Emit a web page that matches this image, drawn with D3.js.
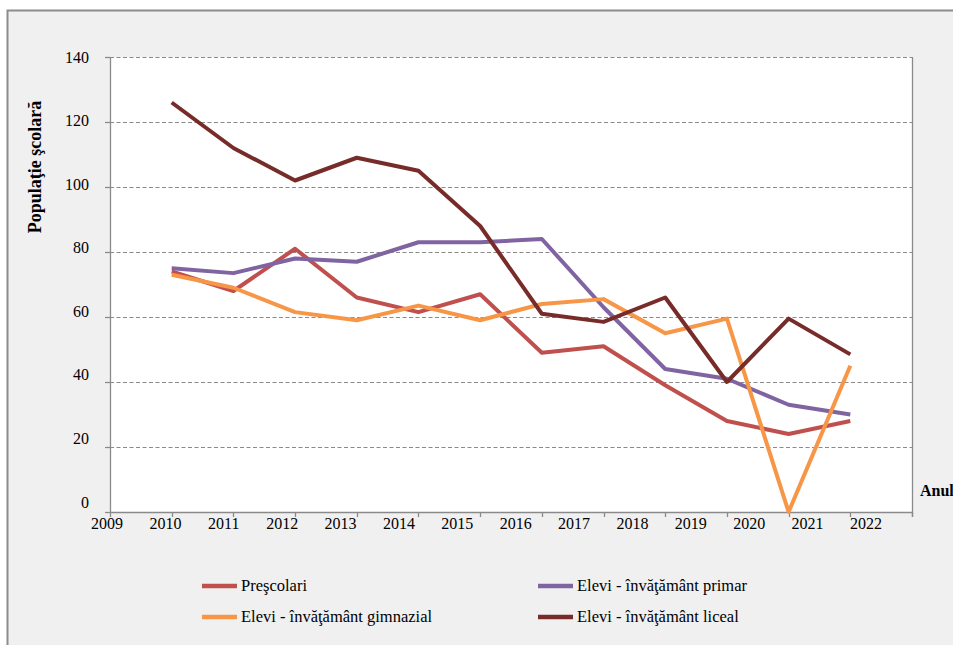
<!DOCTYPE html>
<html>
<head>
<meta charset="utf-8">
<script src="https://cdn.jsdelivr.net/npm/d3@7"></script>
<style>
  html, body { margin: 0; padding: 0; background: #ffffff; }
  svg { display: block; font-family: 'Liberation Serif', 'Times New Roman', Times, serif; }
</style>
</head>
<body>
<svg id="chart" width="953" height="645"></svg>
<script>
// ---- data ----
const years = [2010, 2011, 2012, 2013, 2014, 2015, 2016, 2017, 2018, 2019, 2020, 2021];
const tickYears = [2009, 2010, 2011, 2012, 2013, 2014, 2015, 2016, 2017, 2018, 2019, 2020, 2021, 2022];
const yTicks = [0, 20, 40, 60, 80, 100, 120, 140];
const prescolari = [74, 68, 81, 66, 61.5, 67, 49, 51, 39, 28, 24, 28];
const primar     = [75, 73.5, 78, 77, 83, 83, 84, 63, 44, 41, 33, 30];
const gimnazial  = [73, 69, 61.5, 59, 63.5, 59, 64, 65.5, 55, 59.5, 0, 45];
const liceal     = [126, 112, 102, 109, 105, 88, 61, 58.5, 66, 40, 59.5, 48.5];
const seriesNames = ["Preşcolari", "Elevi - învăţământ primar", "Elevi - învăţământ gimnazial", "Elevi - învăţământ liceal"];
const seriesColors = ["#C0504D", "#8064A2", "#F79646", "#772C2A"];
const seriesValues = [prescolari, primar, gimnazial, liceal];
const yTitle = "Populaţie şcolară";
const xTitle = "Anul";

// ---- layout ----
const FONT = "'Liberation Serif', 'Times New Roman', Times, serif";
const svg = d3.select("#chart").attr("font-family", FONT);
const W = 953, H = 645;
const plot = { left: 110, right: 912, top: 57, bottom: 512 };

// outer panel
svg.append("rect").attr("x", 7.5).attr("y", 10.5).attr("width", W).attr("height", H)
  .attr("fill", "#f0f0f0").attr("stroke", "#8c8c8c").attr("stroke-width", 2);

// plot area
svg.append("rect").attr("x", plot.left).attr("y", plot.top)
  .attr("width", plot.right - plot.left).attr("height", plot.bottom - plot.top)
  .attr("fill", "#ffffff");

const x = d3.scaleLinear().domain([2009, 2022]).range([plot.left, plot.right]);
const y = d3.scaleLinear().domain([0, 140]).range([plot.bottom, plot.top]);
// label positions (offset as in the original rendering)
const xLab = d3.scaleLinear().domain([2009, 2022]).range([plot.left - 3, plot.left + 756]);
const yLab = d3.scaleLinear().domain([0, 140]).range([plot.bottom - 10, plot.top]);

// gridlines
svg.append("g").selectAll("line").data(yTicks.filter(d => d > 0)).join("line")
  .attr("x1", plot.left).attr("x2", plot.right)
  .attr("y1", d => Math.round(y(d)) + 0.5).attr("y2", d => Math.round(y(d)) + 0.5)
  .attr("stroke", "#8a8a8a").attr("stroke-width", 1.2).attr("stroke-dasharray", "4,2.5");

// right border
svg.append("line").attr("x1", plot.right + 0.5).attr("x2", plot.right + 0.5)
  .attr("y1", plot.top).attr("y2", plot.bottom + 5).attr("stroke", "#8a8a8a").attr("stroke-width", 1.3);

// y axis
svg.append("line").attr("x1", plot.left + 0.5).attr("x2", plot.left + 0.5)
  .attr("y1", plot.top).attr("y2", plot.bottom).attr("stroke", "#8a8a8a").attr("stroke-width", 1.3);
svg.append("g").selectAll("line").data(yTicks).join("line")
  .attr("x1", plot.left - 5).attr("x2", plot.left)
  .attr("y1", d => Math.round(y(d)) + 0.5).attr("y2", d => Math.round(y(d)) + 0.5)
  .attr("stroke", "#8a8a8a").attr("stroke-width", 1.3);
svg.append("g").selectAll("text").data(yTicks).join("text")
  .attr("font-family", FONT)
  .attr("x", plot.left - 21).attr("y", d => yLab(d)).attr("dy", "0.35em")
  .attr("text-anchor", "end").attr("font-size", 16).text(d => d);

// x axis
svg.append("line").attr("x1", plot.left).attr("x2", plot.right)
  .attr("y1", plot.bottom + 0.5).attr("y2", plot.bottom + 0.5)
  .attr("stroke", "#8a8a8a").attr("stroke-width", 1.3);
svg.append("g").selectAll("line").data(tickYears).join("line")
  .attr("x1", d => Math.round(x(d)) + 0.5).attr("x2", d => Math.round(x(d)) + 0.5)
  .attr("y1", plot.bottom).attr("y2", plot.bottom + 5)
  .attr("stroke", "#8a8a8a").attr("stroke-width", 1.3);
svg.append("g").selectAll("text").data(tickYears).join("text")
  .attr("font-family", FONT)
  .attr("x", d => xLab(d)).attr("y", plot.bottom + 17)
  .attr("text-anchor", "middle").attr("font-size", 16).text(d => d);

// lines
const line = d3.line().x((d, i) => x(years[i])).y(d => y(d));
svg.append("g").selectAll("path").data(seriesValues).join("path")
  .attr("d", d => line(d))
  .attr("fill", "none")
  .attr("stroke", (d, i) => seriesColors[i])
  .attr("stroke-width", 4)
  .attr("stroke-linejoin", "round");

// axis titles
svg.append("text")
  .attr("font-family", FONT)
  .attr("transform", `translate(41,${(plot.top + 110)}) rotate(-90)`)
  .attr("text-anchor", "middle").attr("font-size", 18).attr("font-weight", "bold")
  .text(yTitle);
svg.append("text").attr("font-family", FONT).attr("x", 920).attr("y", plot.bottom - 16)
  .attr("font-size", 16).attr("font-weight", "bold").text(xTitle);

// legend
const legendPos = [[202, 586], [538, 586], [202, 617], [538, 617]];
const lg = svg.append("g").selectAll("g").data(seriesNames).join("g")
  .attr("transform", (d, i) => `translate(${legendPos[i][0]},${legendPos[i][1]})`);
lg.append("line").attr("x1", 0).attr("x2", 35).attr("y1", 0).attr("y2", 0)
  .attr("stroke", (d, i) => seriesColors[i]).attr("stroke-width", 4.5);
lg.append("text").attr("font-family", FONT).attr("x", 39).attr("y", 0).attr("dy", "0.32em")
  .attr("font-size", 16.5).text(d => d);
</script>
</body>
</html>
